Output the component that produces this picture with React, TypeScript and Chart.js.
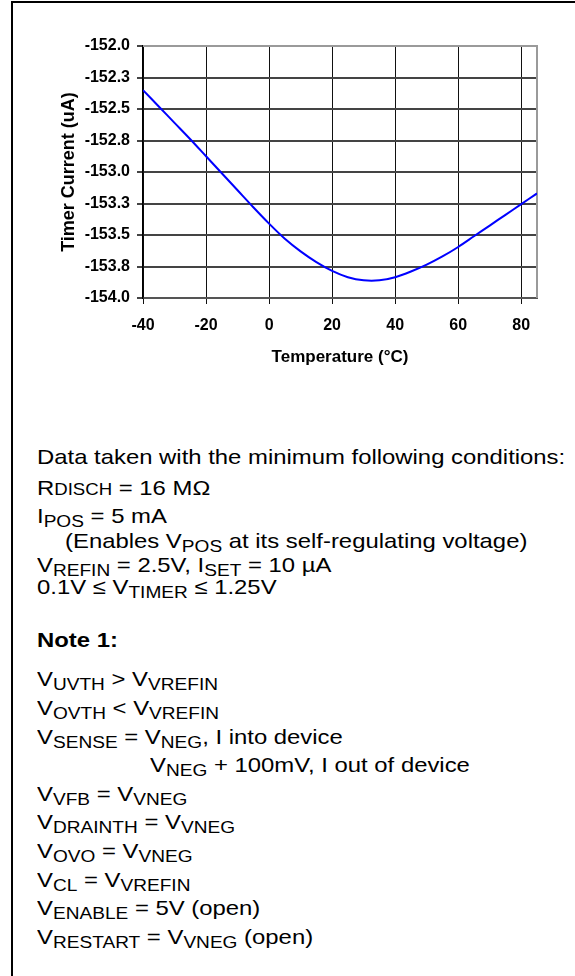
import React, { useEffect, useRef } from "react";
import { Chart, registerables } from "chart.js";

Chart.register(...registerables);

// ---- chart data ----
const temperatures = [-40, -35, -30, -25, -20, -15, -10, -5, 0, 5, 10, 15, 20, 25, 30, 35, 40, 45, 50, 55, 60, 65, 70, 75, 80, 85];
const timerCurrent = [
  -152.35, -152.48, -152.61, -152.74, -152.875, -153.01, -153.145, -153.28, -153.41, -153.53,
  -153.63, -153.715, -153.785, -153.835, -153.86, -153.86, -153.835, -153.79, -153.735, -153.67,
  -153.595, -153.51, -153.425, -153.34, -153.255, -153.17,
];
const xTickValues = [-40, -20, 0, 20, 40, 60, 80];
const xTickLabels = ["-40", "-20", "0", "20", "40", "60", "80"];
const yTickValues = [-152.0, -152.25, -152.5, -152.75, -153.0, -153.25, -153.5, -153.75, -154.0];
const yTickLabels = ["-152.0", "-152.3", "-152.5", "-152.8", "-153.0", "-153.3", "-153.5", "-153.8", "-154.0"];
const xTitle = "Temperature (°C)";
const yTitle = "Timer Current (uA)";

// ---- note text (segments: [text, kind]) ----
type Seg = [string, "n" | "sub" | "sc"];
const textLines: { x: number; y: number; bold?: boolean; segs: Seg[] }[] = [
  { x: 37, y: 457, segs: [["Data taken with the minimum following conditions:", "n"]] },
  { x: 37, y: 488, segs: [["R", "n"], ["DISCH", "sc"], [" = 16 MΩ", "n"]] },
  { x: 37, y: 516, segs: [["I", "n"], ["POS", "sub"], [" = 5 mA", "n"]] },
  { x: 65, y: 541, segs: [["(Enables V", "n"], ["POS", "sub"], [" at its self-regulating voltage)", "n"]] },
  { x: 37, y: 565, segs: [["V", "n"], ["REFIN", "sub"], [" = 2.5V, I", "n"], ["SET", "sub"], [" = 10 µA", "n"]] },
  { x: 37, y: 587, segs: [["0.1V ≤ V", "n"], ["TIMER", "sub"], [" ≤ 1.25V", "n"]] },
  { x: 37, y: 640, bold: true, segs: [["Note 1:", "n"]] },
  { x: 37, y: 679, segs: [["V", "n"], ["UVTH", "sub"], [" > V", "n"], ["VREFIN", "sub"]] },
  { x: 37, y: 708, segs: [["V", "n"], ["OVTH", "sub"], [" < V", "n"], ["VREFIN", "sub"]] },
  { x: 37, y: 737, segs: [["V", "n"], ["SENSE", "sub"], [" = V", "n"], ["NEG", "sub"], [", I into device", "n"]] },
  { x: 150, y: 765, segs: [["V", "n"], ["NEG", "sub"], [" + 100mV, I out of device", "n"]] },
  { x: 37, y: 794, segs: [["V", "n"], ["VFB", "sub"], [" = V", "n"], ["VNEG", "sub"]] },
  { x: 37, y: 822, segs: [["V", "n"], ["DRAINTH", "sub"], [" = V", "n"], ["VNEG", "sub"]] },
  { x: 37, y: 851, segs: [["V", "n"], ["OVO", "sub"], [" = V", "n"], ["VNEG", "sub"]] },
  { x: 37, y: 880, segs: [["V", "n"], ["CL", "sub"], [" = V", "n"], ["VREFIN", "sub"]] },
  { x: 37, y: 908, segs: [["V", "n"], ["ENABLE", "sub"], [" = 5V (open)", "n"]] },
  { x: 37, y: 937, segs: [["V", "n"], ["RESTART", "sub"], [" = V", "n"], ["VNEG", "sub"], [" (open)", "n"]] },
];

const FONT = "Arial, 'Liberation Sans', Helvetica, sans-serif";
const TEXT_SIZE = 21;
const TEXT_STRETCH = 1.137;

const framePlugin = {
  id: "frame",
  beforeDatasetsDraw(chart: any) {
    const { ctx, chartArea } = chart;
    const { left, right, top, bottom } = chartArea;
    ctx.save();
    ctx.strokeStyle = "#9a9a9a";
    ctx.lineWidth = 2;
    ctx.beginPath();
    ctx.moveTo(left, top);
    ctx.lineTo(right, top);
    ctx.lineTo(right, bottom);
    ctx.stroke();
    ctx.restore();
  },
};

function TimerChart() {
  const ref = useRef<HTMLCanvasElement | null>(null);
  useEffect(() => {
    if (!ref.current) return;
    const chart = new Chart(ref.current, {
      type: "line",
      data: {
        datasets: [
          {
            data: temperatures.map((t, i) => ({ x: t, y: timerCurrent[i] })),
            borderColor: "#0000ff",
            borderWidth: 2,
            pointRadius: 0,
            tension: 0.3,
            fill: false,
          },
        ],
      },
      options: {
        responsive: false,
        animation: false,
        devicePixelRatio: 1,
        layout: { padding: { left: 54, right: 38, top: 46, bottom: 8 } },
        plugins: { legend: { display: false }, tooltip: { enabled: false } },
        scales: {
          x: {
            type: "linear",
            min: -40,
            max: 85,
            afterBuildTicks: (s: any) => {
              s.ticks = xTickValues.map((v) => ({ value: v }));
            },
            afterFit: (s: any) => {
              s.height = 74;
            },
            ticks: {
              color: "#000",
              font: { family: FONT, size: 16, weight: "bold" },
              padding: 12,
              maxRotation: 0,
              autoSkip: false,
              callback: (v: any) => {
                const i = xTickValues.indexOf(Number(v));
                return i >= 0 ? xTickLabels[i] : "";
              },
            },
            grid: { color: "#111", lineWidth: 1, tickLength: 6 },
            border: { color: "#555", width: 2 },
            title: {
              display: true,
              text: xTitle,
              color: "#000",
              font: { family: FONT, size: 17, weight: "bold" },
              padding: { top: 4, bottom: 4 },
            },
          },
          y: {
            type: "linear",
            min: -154,
            max: -152,
            afterBuildTicks: (s: any) => {
              s.ticks = yTickValues.map((v) => ({ value: v }));
            },
            afterFit: (s: any) => {
              s.width = 89;
            },
            ticks: {
              color: "#000",
              font: { family: FONT, size: 16, weight: "bold" },
              padding: 7,
              autoSkip: false,
              callback: (v: any) => {
                const i = yTickValues.findIndex((t) => Math.abs(t - Number(v)) < 1e-6);
                return i >= 0 ? yTickLabels[i] : "";
              },
            },
            grid: { color: "#444", lineWidth: 2, tickLength: 6 },
            border: { color: "#000", width: 1.5 },
            title: {
              display: true,
              text: yTitle,
              color: "#000",
              font: { family: FONT, size: 18, weight: "bold" },
              padding: { top: 4, bottom: 4 },
            },
          },
        },
      },
      plugins: [framePlugin],
    } as any);
    return () => chart.destroy();
  }, []);
  return (
    <canvas
      ref={ref}
      width={575}
      height={380}
      style={{ position: "absolute", left: 0, top: 0, width: 575, height: 380 }}
    />
  );
}

export default function App() {
  const lh = Math.round(TEXT_SIZE * 1.15);
  return (
    <div>
      <div
        style={{
          position: "absolute",
          left: 11,
          top: 1,
          width: 564,
          height: 975,
          borderLeft: "2px solid #000",
          borderTop: "2px solid #000",
          boxSizing: "border-box",
        }}
      />
      <TimerChart />
      {textLines.map((ln, idx) => (
        <div
          key={idx}
          style={{
            position: "absolute",
            left: ln.x,
            top: ln.y - lh / 2,
            height: lh,
            lineHeight: lh + "px",
            fontFamily: FONT,
            fontSize: TEXT_SIZE,
            fontWeight: ln.bold ? "bold" : "normal",
            whiteSpace: "nowrap",
            color: "#000",
            transform: `scaleX(${TEXT_STRETCH})`,
            transformOrigin: "0 50%",
          }}
        >
          {ln.segs.map(([t, k], j) =>
            k === "sub" ? (
              <span key={j} style={{ fontSize: "0.8em", position: "relative", top: "0.25em" }}>
                {t}
              </span>
            ) : k === "sc" ? (
              <span key={j} style={{ fontSize: "0.78em" }}>
                {t}
              </span>
            ) : (
              <span key={j}>{t}</span>
            )
          )}
        </div>
      ))}
    </div>
  );
}
